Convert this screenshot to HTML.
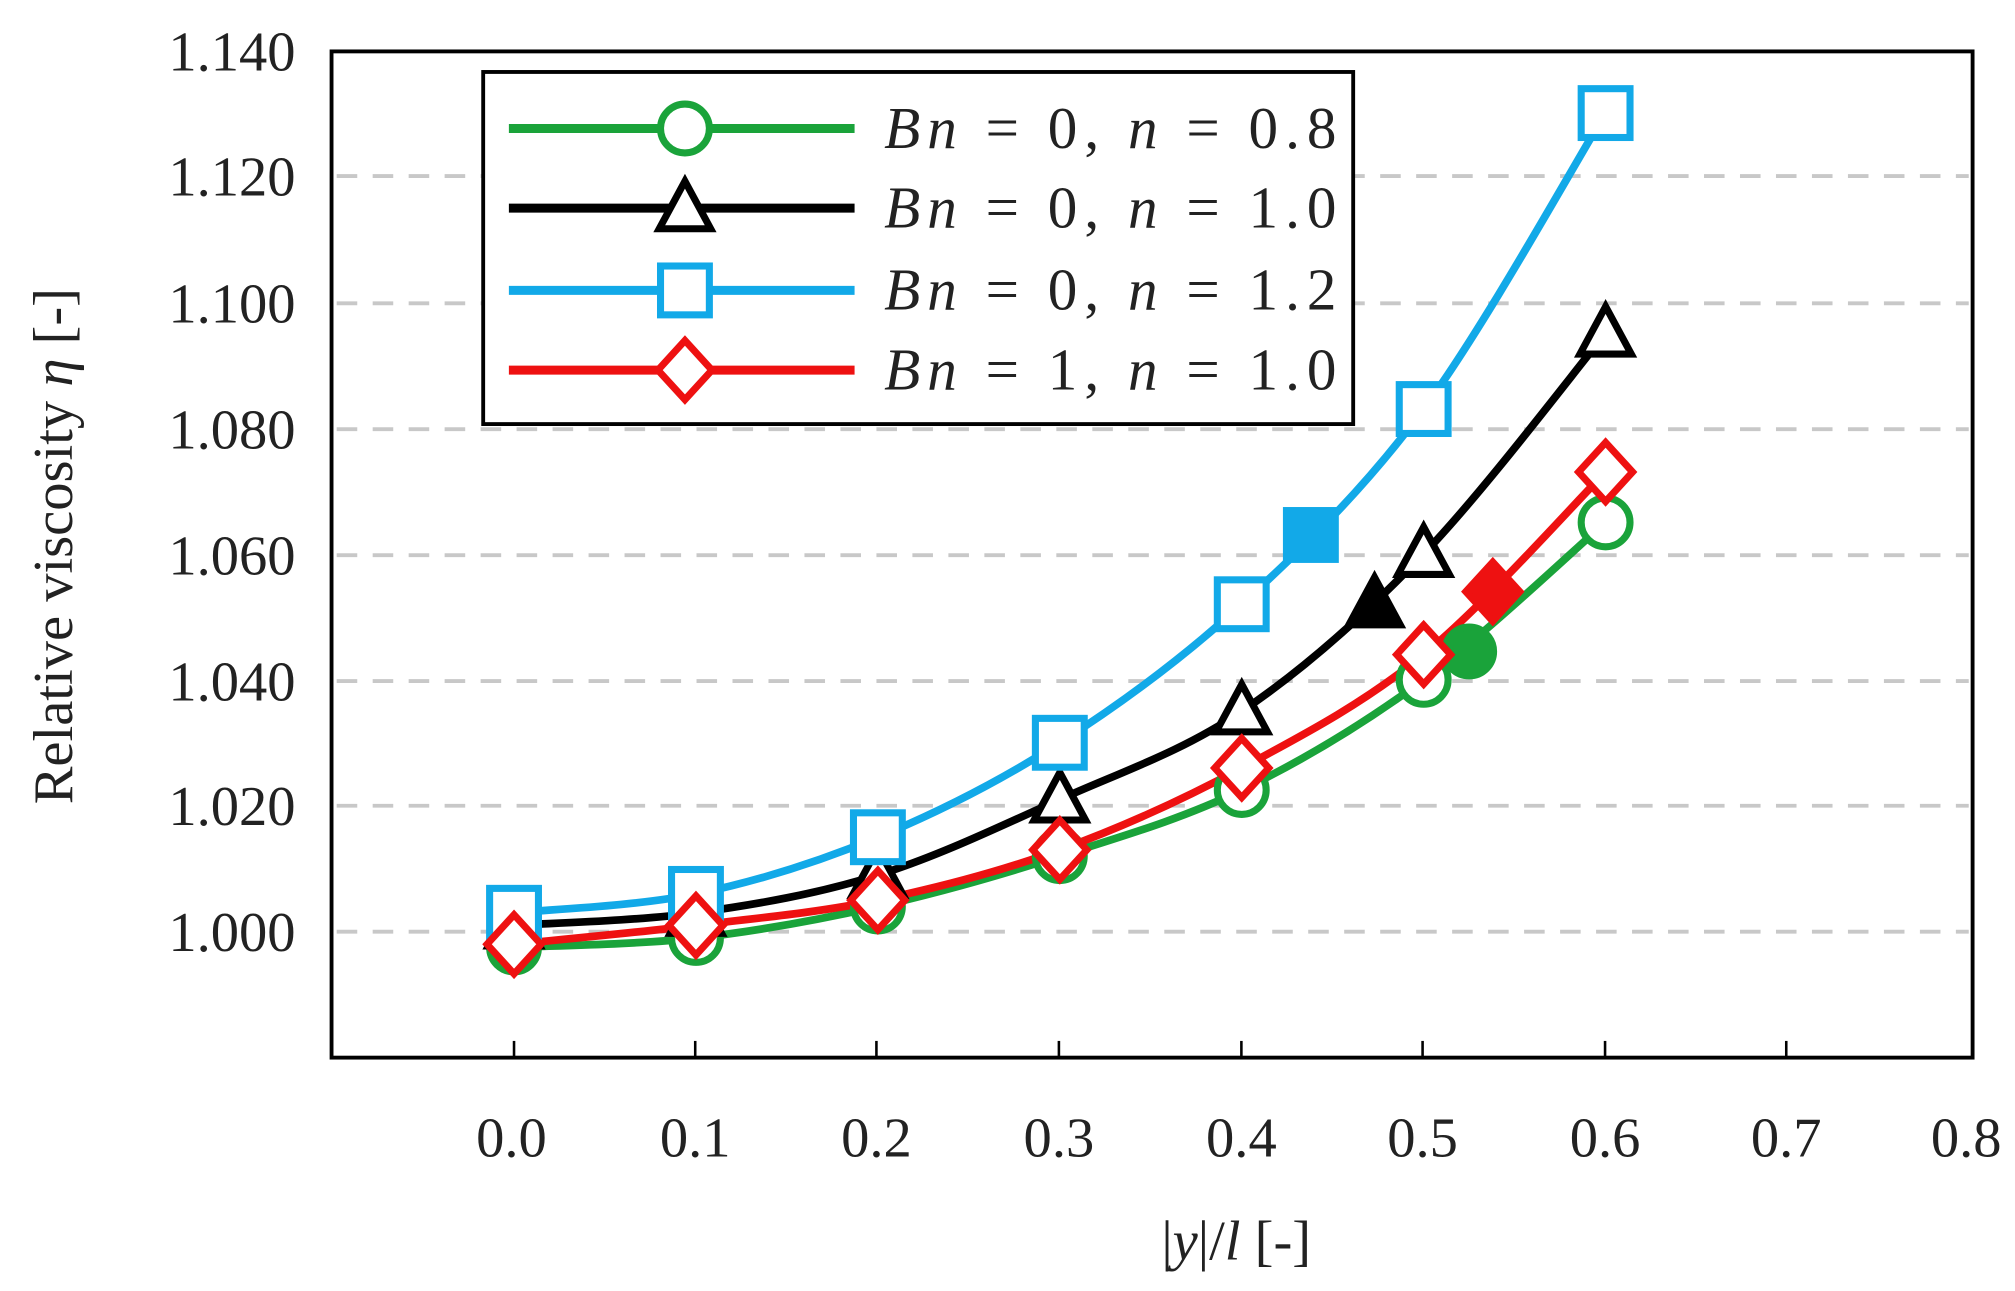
<!DOCTYPE html>
<html><head><meta charset="utf-8"><style>
html,body{margin:0;padding:0;background:#fff;}
svg{display:block;}
text{font-family:"Liberation Serif",serif;fill:#222;}
</style></head><body>
<svg id="s" width="2015" height="1291" viewBox="0 0 1568 1004.6" preserveAspectRatio="none" xmlns="http://www.w3.org/2000/svg">
<g stroke="#c8c8c8" stroke-width="3" stroke-dasharray="16,12">
<line x1="262" y1="137" x2="1532" y2="137"/>
<line x1="262" y1="236" x2="1532" y2="236"/>
<line x1="262" y1="334" x2="1532" y2="334"/>
<line x1="262" y1="432" x2="1532" y2="432"/>
<line x1="262" y1="530" x2="1532" y2="530"/>
<line x1="262" y1="627" x2="1532" y2="627"/>
<line x1="262" y1="725" x2="1532" y2="725"/>
</g>
<rect x="258" y="40" width="1277" height="783" fill="none" stroke="#000" stroke-width="3"/>
<g stroke="#000" stroke-width="2">
<line x1="400" y1="823" x2="400" y2="810"/><line x1="541" y1="823" x2="541" y2="810"/><line x1="682" y1="823" x2="682" y2="810"/><line x1="824" y1="823" x2="824" y2="810"/><line x1="966" y1="823" x2="966" y2="810"/><line x1="1107" y1="823" x2="1107" y2="810"/><line x1="1249" y1="823" x2="1249" y2="810"/><line x1="1390" y1="823" x2="1390" y2="810"/>
</g>
<g font-size="44" text-anchor="end">
<text x="230" y="55">1.140</text><text x="230" y="152">1.120</text><text x="230" y="251">1.100</text><text x="230" y="349">1.080</text><text x="230" y="447">1.060</text><text x="230" y="545">1.040</text><text x="230" y="642">1.020</text><text x="230" y="740">1.000</text>
</g>
<g font-size="44" text-anchor="middle">
<text x="398" y="900">0.0</text><text x="541" y="900">0.1</text><text x="682" y="900">0.2</text><text x="824" y="900">0.3</text><text x="966" y="900">0.4</text><text x="1107" y="900">0.5</text><text x="1249" y="900">0.6</text><text x="1390" y="900">0.7</text><text x="1530" y="900">0.8</text>
</g>
<text x="962" y="980" font-size="44" text-anchor="middle">|<tspan font-style="italic">y</tspan>|/<tspan font-style="italic">l</tspan> [-]</text>
<text transform="translate(56,425) rotate(-90)" font-size="44" text-anchor="middle" fill="#444">Relative viscosity <tspan font-style="italic">η</tspan> [-]</text>
<g id="series"></g>
<rect x="376" y="56" width="677" height="274" fill="#fff" stroke="#000" stroke-width="3"/>
<g id="leg"></g>
<g font-size="46" font-style="italic" fill="#222">
<text x="688" y="115" textLength="352" lengthAdjust="spacing">Bn <tspan font-style="normal">= 0,</tspan> n <tspan font-style="normal">= 0.8</tspan></text>
<text x="688" y="177" textLength="352" lengthAdjust="spacing">Bn <tspan font-style="normal">= 0,</tspan> n <tspan font-style="normal">= 1.0</tspan></text>
<text x="688" y="241" textLength="352" lengthAdjust="spacing">Bn <tspan font-style="normal">= 0,</tspan> n <tspan font-style="normal">= 1.2</tspan></text>
<text x="688" y="303" textLength="352" lengthAdjust="spacing">Bn <tspan font-style="normal">= 1,</tspan> n <tspan font-style="normal">= 1.0</tspan></text>
</g>
</svg>
<script>
var NS="http://www.w3.org/2000/svg";
function X(v){return 400+v*1415.7;}
function Y(v){return 725-(v-1)*4900;}
var xs=[0,0.1,0.2,0.3,0.4,0.5,0.6];
var S=[
 {c:"#1aa33a",m:"o",d:[0.9975,0.999,1.004,1.012,1.0225,1.040,1.065],f:[0.525,1.0445]},
 {c:"#000000",m:"t",d:[1.001,1.003,1.009,1.021,1.035,1.060,1.095],f:[0.473,1.052]},
 {c:"#12a9e8",m:"s",d:[1.003,1.006,1.015,1.030,1.052,1.083,1.130],f:[0.438,1.063]},
 {c:"#ee1111",m:"d",d:[0.998,1.001,1.005,1.013,1.026,1.044,1.073],f:[0.538,1.054]}
];
function el(t,a,p){var e=document.createElementNS(NS,t);for(var k in a)e.setAttribute(k,a[k]);p.appendChild(e);return e;}
function marker(g,m,x,y,c,fill){
 var a={stroke:c,"stroke-width":5.5,fill:fill};
 if(m=="o"){a.cx=x;a.cy=y;a.r=19;el("circle",a,g);}
 else if(m=="s"){a.x=x-19;a.y=y-19;a.width=38;a.height=38;el("rect",a,g);}
 else if(m=="t"){a.points=(x)+","+(y-21)+" "+(x-20)+","+(y+16)+" "+(x+20)+","+(y+16);el("polygon",a,g);}
 else {a.points=(x)+","+(y-23)+" "+(x-21)+","+(y)+" "+(x)+","+(y+23)+" "+(x+21)+","+y;el("polygon",a,g);}
}
var g=document.getElementById("series");
S.forEach(function(s){
 var P=xs.map(function(v,i){return [X(v),Y(s.d[i])];});
 var d="M"+P[0][0]+","+P[0][1];
 for(var i=0;i<P.length-1;i++){
  var p0=P[Math.max(0,i-1)],p1=P[i],p2=P[i+1],p3=P[Math.min(P.length-1,i+2)];
  var c1=[p1[0]+(p2[0]-p0[0])/6,p1[1]+(p2[1]-p0[1])/6],c2=[p2[0]-(p3[0]-p1[0])/6,p2[1]-(p3[1]-p1[1])/6];
  d+=" C"+c1+" "+c2+" "+p2;
 }
 el("path",{d:d,fill:"none",stroke:s.c,"stroke-width":6},g);
});
S.forEach(function(s){
 xs.forEach(function(v,i){marker(g,s.m,X(v),Y(s.d[i]),s.c,"#fff");});
 marker(g,s.m,X(s.f[0]),Y(s.f[1]),s.c,s.c);
});
var L=document.getElementById("leg");
var ly=[100,162,226,288];
S.forEach(function(s,i){
 el("line",{x1:396,y1:ly[i],x2:665,y2:ly[i],stroke:s.c,"stroke-width":7},L);
 marker(L,s.m,533,ly[i],s.c,"#fff");
});
</script>
</body></html>
